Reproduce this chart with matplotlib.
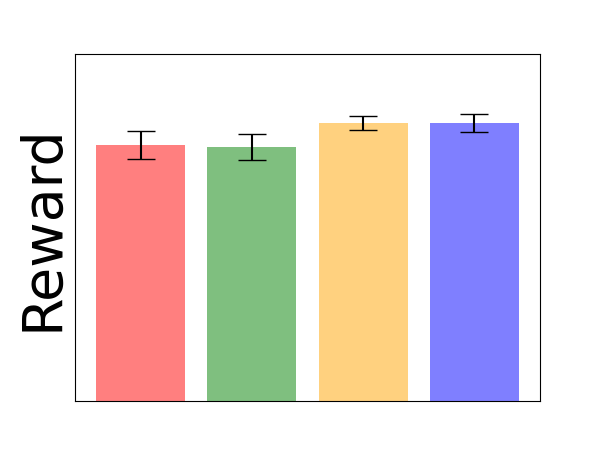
import matplotlib
matplotlib.use('Agg')
import matplotlib.pyplot as plt

methods = ['A', 'B', 'C', 'D']
rewards = [0.737, 0.732, 0.801, 0.801]
errors = [0.0395, 0.038, 0.021, 0.0265]
colors = ['red', 'green', 'orange', 'blue']

fig, ax = plt.subplots(figsize=(6, 4.5), dpi=100)
ax.bar(range(len(methods)), rewards, yerr=errors, color=colors, alpha=0.5,
       capsize=10)
ax.set_ylim(0, 1)
ax.set_xticks([])
ax.set_yticks([])
ax.set_ylabel('Reward', fontsize=40)
fig.savefig('out.png', dpi=100)
